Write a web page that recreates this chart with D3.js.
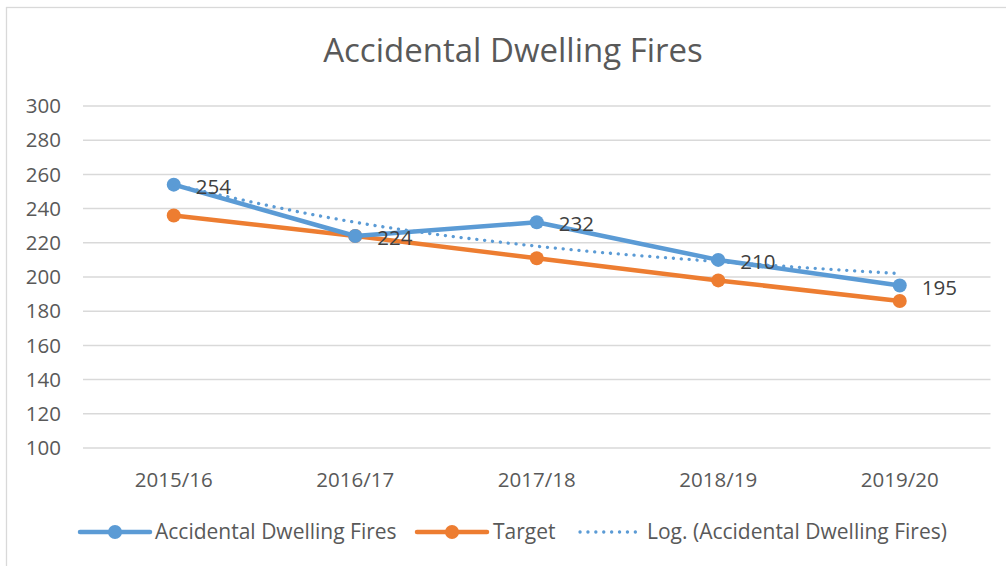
<!DOCTYPE html>
<html>
<head>
<meta charset="utf-8">
<script src="https://cdn.jsdelivr.net/npm/d3@7"></script>
<style>
  html, body { margin: 0; padding: 0; background: #ffffff; }
  svg { display: block; }
</style>
</head>
<body>
<div id="chart"></div>
<script>
const seasons = ["2015/16", "2016/17", "2017/18", "2018/19", "2019/20"];
const fires = [254, 224, 232, 210, 195];
const target = [236, 224, 211, 198, 186];
const logTrend = [254, 232, 218, 209, 202];
const yTicks = [100, 120, 140, 160, 180, 200, 220, 240, 260, 280, 300];

const palette = {
  blue: "#5b9bd5",
  orange: "#ed7d31",
  grid: "#d9d9d9",
  text: "#595959",
  label: "#404040",
  border: "#d9d9d9"
};

const font = "'Open Sans', 'Noto Sans', sans-serif";
const width = 1006;
const height = 566;
const plot = { left: 83, right: 990.5, top: 106, bottom: 448 };

const svg = d3.select("#chart")
  .append("svg")
  .attr("width", width)
  .attr("height", height);

svg.append("rect")
  .attr("x", 6.5)
  .attr("y", 7.5)
  .attr("width", 1010)
  .attr("height", 600)
  .attr("fill", "#ffffff")
  .attr("stroke", palette.border)
  .attr("stroke-width", 1.3);

svg.append("text")
  .attr("x", 513)
  .attr("y", 62)
  .attr("fill", palette.text)
  .attr("font-family", font)
  .attr("font-size", 33)
  .attr("text-anchor", "middle")
  .text("Accidental Dwelling Fires");

const x = d3.scalePoint()
  .domain(seasons)
  .range([plot.left, plot.right])
  .padding(0.5);

const y = d3.scaleLinear()
  .domain([100, 300])
  .range([plot.bottom, plot.top]);

// gridlines
svg.append("g")
  .selectAll("line")
  .data(yTicks)
  .join("line")
  .attr("x1", plot.left)
  .attr("x2", plot.right)
  .attr("y1", (d) => y(d))
  .attr("y2", (d) => y(d))
  .attr("stroke", palette.grid)
  .attr("stroke-width", 1.5);

// y tick labels
svg.append("g")
  .selectAll("text")
  .data(yTicks)
  .join("text")
  .attr("x", 61)
  .attr("y", (d) => y(d))
  .attr("dy", "0.35em")
  .attr("fill", palette.text)
  .attr("font-family", font)
  .attr("font-size", 20.5)
  .attr("text-anchor", "end")
  .text((d) => d);

// x tick labels
svg.append("g")
  .selectAll("text")
  .data(seasons)
  .join("text")
  .attr("x", (d) => x(d))
  .attr("y", 480)
  .attr("dy", "0.35em")
  .attr("fill", palette.text)
  .attr("font-family", font)
  .attr("font-size", 20.5)
  .attr("text-anchor", "middle")
  .text((d) => d);

const line = d3.line()
  .x((d, i) => x(seasons[i]))
  .y((d) => y(d));

const curve = d3.line()
  .x((d, i) => x(seasons[i]))
  .y((d) => y(d))
  .curve(d3.curveMonotoneX);

function drawSeries(values, color) {
  svg.append("path")
    .datum(values)
    .attr("d", line)
    .attr("fill", "none")
    .attr("stroke", color)
    .attr("stroke-width", 4.5)
    .attr("stroke-linejoin", "round")
    .attr("stroke-linecap", "round");

  svg.append("g")
    .selectAll("circle")
    .data(values)
    .join("circle")
    .attr("cx", (d, i) => x(seasons[i]))
    .attr("cy", (d) => y(d))
    .attr("r", 7)
    .attr("fill", color);
}

drawSeries(target, palette.orange);
drawSeries(fires, palette.blue);

svg.append("path")
  .datum(logTrend)
  .attr("d", curve)
  .attr("fill", "none")
  .attr("stroke", palette.blue)
  .attr("stroke-width", 3.3)
  .attr("stroke-dasharray", "0.1 7.8")
  .attr("stroke-linecap", "round");

// data labels
svg.append("g")
  .selectAll("text")
  .data(fires)
  .join("text")
  .attr("x", (d, i) => x(seasons[i]) + 22)
  .attr("y", (d) => y(d) + 2)
  .attr("dy", "0.35em")
  .attr("fill", palette.label)
  .attr("font-family", font)
  .attr("font-size", 20.5)
  .text((d) => d);

// legend
const legendY = 532;
const legend = svg.append("g");

[[80, palette.blue], [417, palette.orange]].forEach(([lx, color]) => {
  legend.append("line")
    .attr("x1", lx)
    .attr("x2", lx + 70)
    .attr("y1", legendY)
    .attr("y2", legendY)
    .attr("stroke", color)
    .attr("stroke-width", 4.5)
    .attr("stroke-linecap", "round");
  legend.append("circle")
    .attr("cx", lx + 35)
    .attr("cy", legendY)
    .attr("r", 7)
    .attr("fill", color);
});

legend.append("line")
  .attr("x1", 580)
  .attr("x2", 640)
  .attr("y1", legendY)
  .attr("y2", legendY)
  .attr("stroke", palette.blue)
  .attr("stroke-width", 3.3)
  .attr("stroke-dasharray", "0.1 7.8")
  .attr("stroke-linecap", "round");

[
  [155, "Accidental Dwelling Fires"],
  [493, "Target"],
  [647, "Log. (Accidental Dwelling Fires)"]
].forEach(([lx, label]) => {
  legend.append("text")
    .attr("x", lx)
    .attr("y", legendY)
    .attr("dy", "0.35em")
    .attr("fill", palette.text)
    .attr("font-family", font)
    .attr("font-size", 21)
    .text(label);
});
</script>
</body>
</html>
